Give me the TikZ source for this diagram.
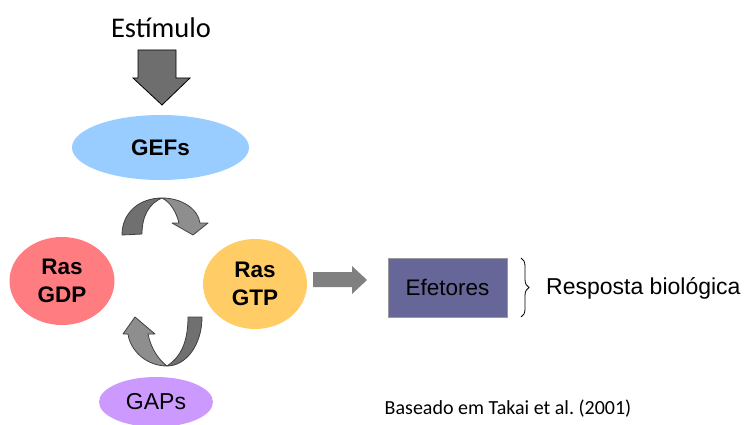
\documentclass[tikz,border=0pt]{standalone}
\usepackage{fontspec}
\setmainfont{Carlito}
\newfontfamily\arial{Liberation Sans}
\usetikzlibrary{shapes.geometric,decorations.pathreplacing}
\definecolor{gefblue}{HTML}{99CCFF}
\definecolor{gdpred}{HTML}{FF7C80}
\definecolor{gtpyellow}{HTML}{FFCC66}
\definecolor{gapviolet}{HTML}{CC99FF}
\definecolor{efetbox}{HTML}{666699}
\definecolor{ribbondark}{HTML}{707070}
\definecolor{ribbonlight}{HTML}{8E8E8E}
\begin{document}
\begin{tikzpicture}[x=1pt,y=-1pt,blob/.style={shape=ellipse,inner sep=0pt,align=center,font=\arial\bfseries\fontsize{22.5}{28}\selectfont},enzyme/.style={blob,font=\arial\bfseries\fontsize{22.5}{28}\selectfont},ribbon/.style={draw=black!75,line width=0.8pt,line join=round},fat/.style={draw=black,line width=0.8pt,fill=black!57,line join=miter}]
\useasboundingbox (0,0) rectangle (747,425);

\node[font=\fontsize{28.5}{34}\selectfont] (estim) at (161,28) {Estímulo};
\draw[fat] (138,50) -- (176,50) -- (176,78) -- (190,78) -- (162,105) -- (133,78) -- (138,78) -- cycle;

\node[enzyme,fill=gefblue,minimum width=177,minimum height=65] (GEF) at (160.5,147.5) {GEFs};

\node[blob,fill=gdpred,minimum width=105,minimum height=88] (GDP) at (62,281) {Ras\\GDP};
\node[blob,fill=gtpyellow,minimum width=104,minimum height=90] (GTP) at (255,284) {Ras\\GTP};

\node[blob,fill=gapviolet,minimum width=114,minimum height=50,font=\arial\fontsize{23}{28}\selectfont] (GAP) at (156,402) {GAPs};

% upper ribbon, GDP -> GTP
\draw[ribbon,fill=ribbondark] (122,235) .. controls (122,212) and (140,198) .. (162,198) .. controls (150,203) and (142,215) .. (142,234) -- cycle;
\draw[ribbon,fill=ribbonlight] (162,198) .. controls (182,198) and (198,209) .. (200,223) -- (208,223) -- (193,235) -- (172,223) -- (179,223) .. controls (176,211) and (170,202) .. (162,198) -- cycle;

% lower ribbon, GTP -> GDP
\draw[ribbon,fill=ribbondark] (202,317) .. controls (202,345) and (186,366) .. (167,366) .. controls (179,358) and (188,345) .. (188,317) -- cycle;
\draw[ribbon,fill=ribbonlight] (167,366) .. controls (146,366) and (130,350) .. (128,334) -- (123,334) -- (135,317) -- (155,334) -- (148,334) .. controls (151,349) and (159,360) .. (167,366) -- cycle;

\fill[black!50] (313,272) -- (352,272) -- (352,266) -- (367,280) -- (352,294) -- (352,287) -- (313,287) -- cycle;

\node[draw=black!40,line width=0.5pt,fill=efetbox,minimum width=119,minimum height=59,inner sep=0pt,font=\arial\fontsize{22.5}{27}\selectfont] (eff) at (447.5,287.5) {Efetores};

\draw[decorate,decoration={brace,amplitude=8pt},line width=0.8pt] (521,258) -- (521,317);
\node[anchor=west,inner sep=0pt,font=\arial\fontsize{23}{28}\selectfont] (resp) at (546,288) {Resposta biológica};

\node[font=\fontsize{20}{24}\selectfont] (ref) at (508,409) {Baseado em Takai et al.\ (2001)};
\end{tikzpicture}
\end{document}
